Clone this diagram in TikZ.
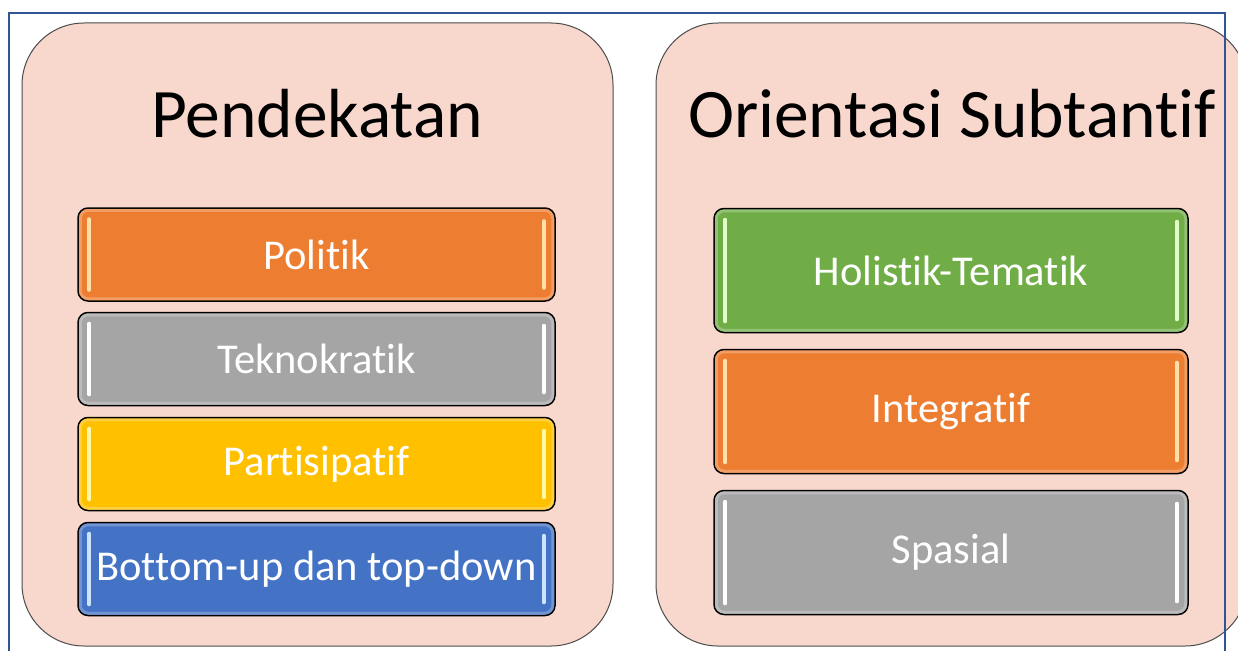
\documentclass[tikz,border=0pt]{standalone}
\usepackage{fontspec}
\setmainfont{Carlito}[Ligatures={NoCommon,NoRare}]
\definecolor{pinkbg}{HTML}{F8D7CD}
\definecolor{orangeC}{HTML}{ED7D31}
\definecolor{grayC}{HTML}{A5A5A5}
\definecolor{yellowC}{HTML}{FFC000}
\definecolor{blueC}{HTML}{4472C4}
\definecolor{greenC}{HTML}{70AD47}
\definecolor{frameC}{HTML}{2F5597}
\definecolor{orangeHL}{HTML}{FFE0A8}
\definecolor{grayHL}{HTML}{FFFFFF}
\definecolor{yellowHL}{HTML}{FFF7A8}
\definecolor{blueHL}{HTML}{CDE4FF}
\definecolor{greenHL}{HTML}{E2FFC8}
\begin{document}
\begin{tikzpicture}[x=1pt,y=-1pt,
  bigbox/.style={draw=black!70, line width=1pt, fill=pinkbg, rounded corners=62pt},
  itembox/.style={draw=black, line width=1.5pt, rounded corners=10pt, text=white,
    font=\fontsize{42.5}{50}\selectfont, inner sep=0pt, anchor=center},
  leftitem/.style={itembox, minimum width=477pt, minimum height=93pt},
  rightitem/.style={itembox, minimum width=474pt, minimum height=124pt},
  titlestyle/.style={font=\fontsize{69.5}{82}\selectfont, text=black, inner sep=0pt},
  hl/.style={line width=4pt, line cap=round},
  glow/.style={draw=white, draw opacity=0.25, line width=3pt, rounded corners=8pt}]
\useasboundingbox (0,0) rectangle (1238,650);
\begin{scope}
\clip (0,0) rectangle (1238,650);
\fill[white] (0,0) rectangle (1238,650);
% large panels
\path[bigbox] (22,23) rectangle (613,646);
\path[bigbox] (656,23) rectangle (1247,646);
% titles
\node[titlestyle, anchor=base] (t1) at (317,137) {Pendekatan};
\node[titlestyle, anchor=base] (t2) at (952,137) {Orientasi Subtantif};
% left items
\node[leftitem, fill=orangeC] (politik) at (316.5,254.5) {Politik};
\node[leftitem, fill=grayC] (tekno) at (316.5,359) {Teknokratik};
\node[leftitem, fill=yellowC] (partis) at (316.5,464) {Partisipatif};
\node[leftitem, fill=blueC] (bottom) at (316.5,569) {Bottom-up dan top-down};
% right items
\node[rightitem, fill=greenC] (holis) at (951,270.5) {Holistik-Tematik};
\node[rightitem, fill=orangeC] (integ) at (951,411.5) {Integratif};
\node[rightitem, fill=grayC] (spas) at (951,552.5) {Spasial};
% glow and highlights
\foreach \n/\c in {politik/orangeHL, tekno/grayHL, partis/yellowHL, bottom/blueHL,
                   holis/greenHL, integ/orangeHL, spas/grayHL}{
  \draw[glow] ([shift={(3,3)}]\n.north west) rectangle ([shift={(-3,-3)}]\n.south east);
  \draw[hl, draw=\c] ([shift={(12,12)}]\n.north west) -- ([shift={(12,-12)}]\n.south west);
  \draw[hl, draw=\c] ([shift={(-12,14)}]\n.north east) -- ([shift={(-12,-14)}]\n.south east);
}
% outer frame
\coordinate (fbl) at (9,660);
\coordinate (ftl) at (9,13);
\coordinate (ftr) at (1225,13);
\coordinate (fbr) at (1225,660);
\draw[frameC, line width=2pt] (fbl) -- (ftl) -- (ftr) -- (fbr);
\end{scope}
\end{tikzpicture}
\end{document}
